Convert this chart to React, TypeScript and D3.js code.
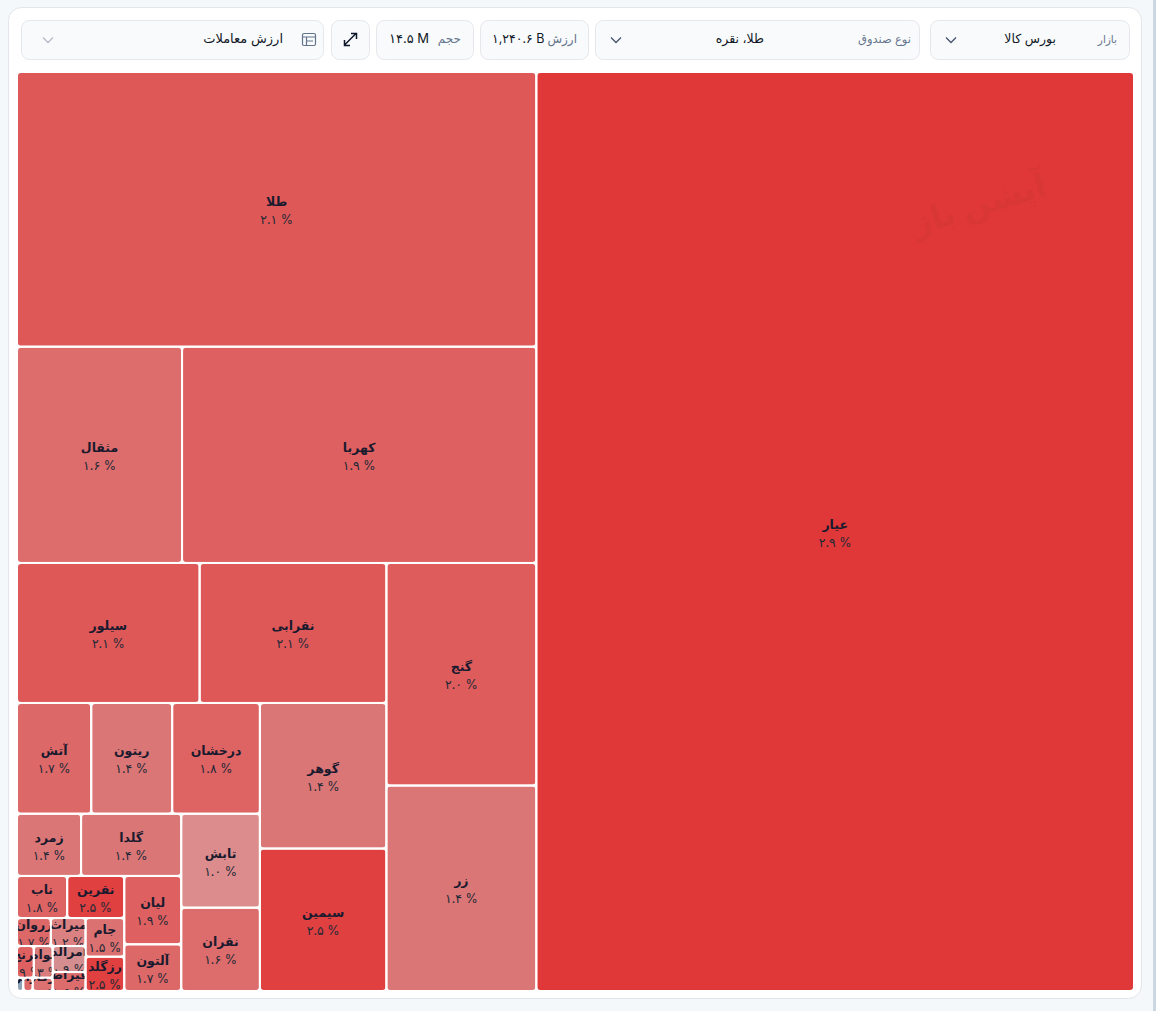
import React from "react";
import * as d3 from "d3";

const fundNames = ["عیار","طلا","کهربا","مثقال","گنج","زر","نقرابی","سیلور","گوهر","سیمین","درخشان","ریتون","آتش","تابش","نقران","گلدا","زمرد","لیان","آلتون","نقرین","ناب","جام","رزگلد","میراث","زروان","امرالد","فیراط","بواه","ترنج","رکاد","جواهر","یاقوت"];
const tradeValues = [661.6,171.8,92.3,43.0,40.2,37.1,31.5,30.8,22.2,21.7,11.7,10.8,9.9,8.9,7.9,7.5,4.8,4.7,3.2,2.9,2.55,1.8,1.6,1.17,1.14,1.03,0.75,0.72,0.64,0.32,0.15,0.10];
const changePercents = [2.9,2.1,1.9,1.6,2.0,1.4,2.1,2.1,1.4,2.5,1.8,1.4,1.7,1.0,1.6,1.4,1.4,1.9,1.7,2.5,1.8,1.5,2.5,1.2,1.7,0.9,1.6,1.3,1.9,1.5,1.7,0];
const colorStops = [0,1,1.4,1.6,1.9,2.1,2.5,2.9];
const colorValues = ["#8fa3b5","#dc8c8c","#db7676","#dd6c6c","#de6060","#de5858","#e04040","#e03838"];

const W = 1115, H = 917;
const FONT = "Inter, 'DejaVu Sans', sans-serif";
const fa = (s: string) => s.replace(/\d/g, (d) => "۰۱۲۳۴۵۶۷۸۹"[+d]);

const color = d3.scaleLinear<string>().domain(colorStops).range(colorValues).interpolate(d3.interpolateRgb);

type Leaf = { name: string; value: number; pct: number };
const leaves: Leaf[] = fundNames.map((name, i) => ({ name, value: tradeValues[i], pct: changePercents[i] }));

const root = d3
  .hierarchy<any>({ children: leaves })
  .sum((d: any) => d.value || 0)
  .sort((a, b) => (b.value || 0) - (a.value || 0));
d3.treemap<any>().tile(d3.treemapSquarify.ratio(1)).size([W, H]).paddingInner(2).round(false)(root);

const Box = ({ x, w }: { x: number; w: number }) => (
  <rect x={x + 0.5} y={20.5} width={w - 1} height={39} rx={8} fill="#f8fafc" stroke="#e5e7eb" />
);
const Chevron = ({ x, c = "#475569" }: { x: number; c?: string }) => (
  <path d={`M${x - 5} 37.5 L${x} 42.5 L${x + 5} 37.5`} fill="none" stroke={c} strokeWidth={1.3} />
);

export default function App() {
  const cells = root.leaves() as any[];
  return (
    <svg
      width={1156}
      height={1011}
      style={{ position: "absolute", left: 0, top: 0, display: "block", fontFamily: FONT }}
    >
      <style>{`body{margin:0;overflow:hidden}`}</style>
      <rect width={1156} height={1011} fill="#f5f8fb" />
      <rect x={1153} width={3} height={1011} fill="#c9d8e2" />
      <rect x={8.5} y={7.5} width={1133} height={991} rx={13} fill="#fff" stroke="#e2e6ea" />

      <Box x={21} w={303} />
      <Box x={331} w={39} />
      <Box x={376} w={98} />
      <Box x={480} w={109} />
      <Box x={595} w={325} />
      <Box x={930} w={200} />

      <Chevron x={48} c="#b6bcc4" />
      <Chevron x={616} />
      <Chevron x={951} />
      <g fill="none" stroke="#64748b" strokeWidth={1.2}>
        <rect x={302.5} y={33.5} width={13} height={12} rx={1.5} />
        <path d="M302.5 37 H315.5 M306.5 37 V45.5 M306.5 41 H313" />
      </g>
      <g fill="none" stroke="#0f172a" strokeWidth={1.5}>
        <path d="M345 44.5 L355.5 34 M351 33.5 H356.5 V39 M344.5 40 V45.5 H350" />
      </g>

      <g direction="rtl" textAnchor="start" fontSize={13}>
        <text x={283} y={43} fill="#111827">ارزش معاملات</text>
        <text x={461} y={43} fill="#64748b" fontSize={12}>حجم</text>
        <text x={577} y={43} fill="#64748b" fontSize={12}>ارزش</text>
        <text x={911} y={43} fill="#64748b" fontSize={11.5}>نوع صندوق</text>
        <text x={764} y={43} fill="#111827" fontSize={12.5}>طلا، نقره</text>
        <text x={1117} y={43} fill="#64748b" fontSize={10.5}>بازار</text>
        <text x={1056} y={43} fill="#111827" fontSize={12.5}>بورس کالا</text>
      </g>
      <text x={389} y={43} fontSize={13} fill="#111827">۱۴.۵ M</text>
      <text x={492} y={43} fontSize={12.5} fill="#111827">۱,۲۴۰.۶ B</text>

      <g transform="translate(18,73)">
        <defs>
          {cells.map((d, i) => (
            <clipPath id={`c${i}`} key={i}>
              <rect x={W - d.x1} y={d.y0} width={d.x1 - d.x0} height={d.y1 - d.y0} rx={3} />
            </clipPath>
          ))}
        </defs>
        {cells.map((d, i) => {
          const x = W - d.x1;
          const w = d.x1 - d.x0;
          const h = d.y1 - d.y0;
          const cx = x + w / 2;
          const cy = d.y0 + h / 2;
          return (
            <g key={i} clipPath={`url(#c${i})`}>
              <rect x={x} y={d.y0} width={w} height={h} fill={color(d.data.pct)} />
              <text x={cx} y={cy - 3} textAnchor="middle" fontSize={12.5} fontWeight={700} fill="#1a1a2e">
                {d.data.name}
              </text>
              <text x={cx} y={cy + 15} textAnchor="middle" fontSize={12.5} fill="#1f2937">
                {fa(d.data.pct.toFixed(1))} %
              </text>
            </g>
          );
        })}
      </g>

      <text
        transform="translate(982,215) rotate(-17)"
        textAnchor="middle"
        fontSize={33}
        fontWeight={700}
        fill="#000"
        fillOpacity={0.05}
      >
        آپشن باز
      </text>
    </svg>
  );
}
